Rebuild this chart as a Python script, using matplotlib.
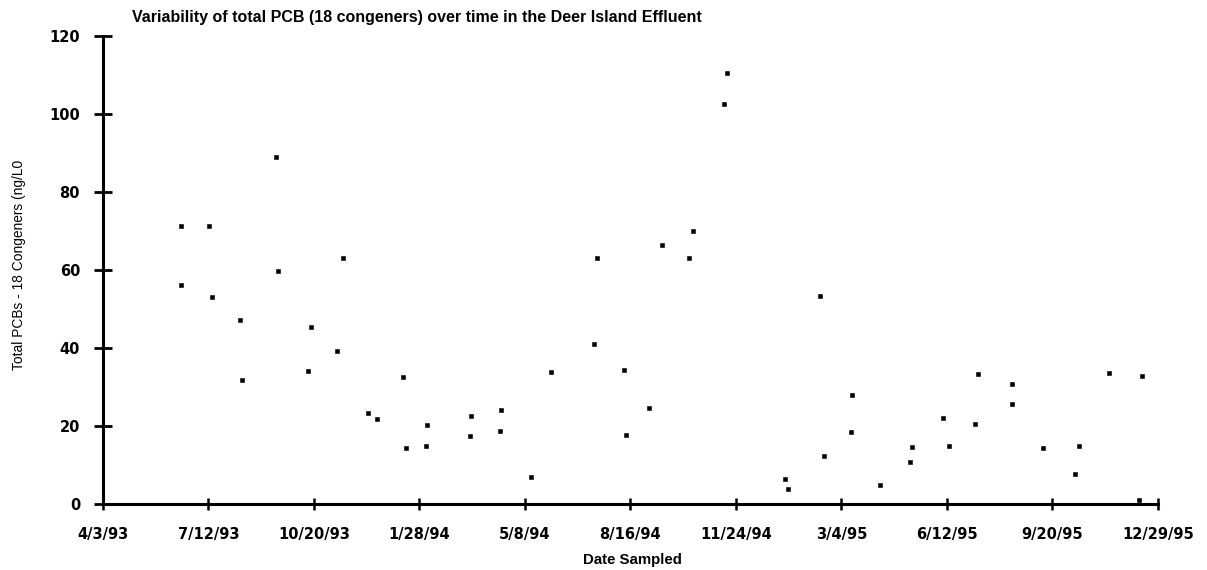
import matplotlib
matplotlib.use("Agg")
import matplotlib.pyplot as plt
from datetime import datetime

# Sampling dates and total PCB (18 congeners), ng/L
dates = [
    "1993-06-16", "1993-06-16", "1993-07-13", "1993-07-15", "1993-08-11",
    "1993-08-13", "1993-09-14", "1993-09-16", "1993-10-14", "1993-10-17",
    "1993-11-11", "1993-11-17", "1993-12-10", "1993-12-19", "1994-01-12",
    "1994-01-15", "1994-02-03", "1994-02-04", "1994-03-17", "1994-03-18",
    "1994-04-14", "1994-04-15", "1994-05-14", "1994-06-02", "1994-07-13",
    "1994-07-15", "1994-08-10", "1994-08-12", "1994-09-03", "1994-09-15",
    "1994-10-11", "1994-10-14", "1994-11-13", "1994-11-16", "1995-01-10",
    "1995-01-12", "1995-02-12", "1995-02-16", "1995-03-13", "1995-03-14",
    "1995-04-10", "1995-05-08", "1995-05-10", "1995-06-08", "1995-06-14",
    "1995-07-09", "1995-07-12", "1995-08-13", "1995-08-13", "1995-09-11",
    "1995-10-12", "1995-10-15", "1995-11-13", "1995-12-11", "1995-12-14",
]
total_pcb = [
    71.2, 56.1, 71.2, 53.1, 47.3,
    31.9, 89.0, 59.9, 34.2, 45.4,
    39.3, 63.2, 23.3, 21.8, 32.6,
    14.4, 15.0, 20.2, 17.4, 22.5,
    18.9, 24.1, 7.0, 33.8, 41.2,
    63.1, 34.5, 17.8, 24.7, 66.5,
    63.1, 70.1, 102.5, 110.6, 6.5,
    3.9, 53.3, 12.3, 18.4, 28.1,
    4.9, 10.9, 14.8, 22.2, 15.0,
    20.6, 33.3, 30.9, 25.6, 14.4,
    7.7, 15.0, 33.6, 1.1, 32.9,
]

x_tick_labels = ["4/3/93", "7/12/93", "10/20/93", "1/28/94", "5/8/94", "8/16/94",
                 "11/24/94", "3/4/95", "6/12/95", "9/20/95", "12/29/95"]
y_ticks = [0, 20, 40, 60, 80, 100, 120]

x = [datetime.strptime(d, "%Y-%m-%d") for d in dates]
x_ticks = [datetime.strptime(t, "%m/%d/%y") for t in x_tick_labels]

fig = plt.figure(figsize=(12.07, 5.70), dpi=100)
ax = fig.add_axes([0.0853, 0.1153, 0.8739, 0.8215])

ax.plot(x, total_pcb, linestyle="none", marker="s", markersize=3.2,
        markerfacecolor="black", markeredgecolor="black", markeredgewidth=0.4)

ax.set_xlim(x_ticks[0], x_ticks[-1])
ax.set_ylim(0, 120)
ax.set_xticks(x_ticks)
ax.set_xticklabels(x_tick_labels)
ax.set_yticks(y_ticks)
ax.set_yticklabels([str(v) for v in y_ticks])

for side in ("top", "right"):
    ax.spines[side].set_visible(False)
for side in ("left", "bottom"):
    ax.spines[side].set_linewidth(2.2)
    ax.spines[side].set_color("black")

ax.tick_params(axis="y", direction="inout", length=13, width=2.0, pad=10,
               labelsize=10.5)
ax.tick_params(axis="x", direction="inout", length=8, width=1.8, pad=12,
               labelsize=10.5)
for lab in ax.get_xticklabels() + ax.get_yticklabels():
    lab.set_fontweight("bold")
    lab.set_family("DejaVu Sans")

fig.text(0.345, 0.970, "Variability of total PCB (18 congeners) over time in the Deer Island Effluent",
         ha="center", va="center", fontsize=11.5, fontweight="bold", family="Liberation Sans")
fig.text(0.016, 0.535, "Total PCBs - 18 Congeners (ng/L0", rotation=90,
         ha="center", va="center", fontsize=9.9, family="Liberation Sans")
fig.text(0.5236, 0.018, "Date Sampled", ha="center", va="center",
         fontsize=10.8, fontweight="bold", family="Liberation Sans")

fig.savefig("out.png", dpi=100)
